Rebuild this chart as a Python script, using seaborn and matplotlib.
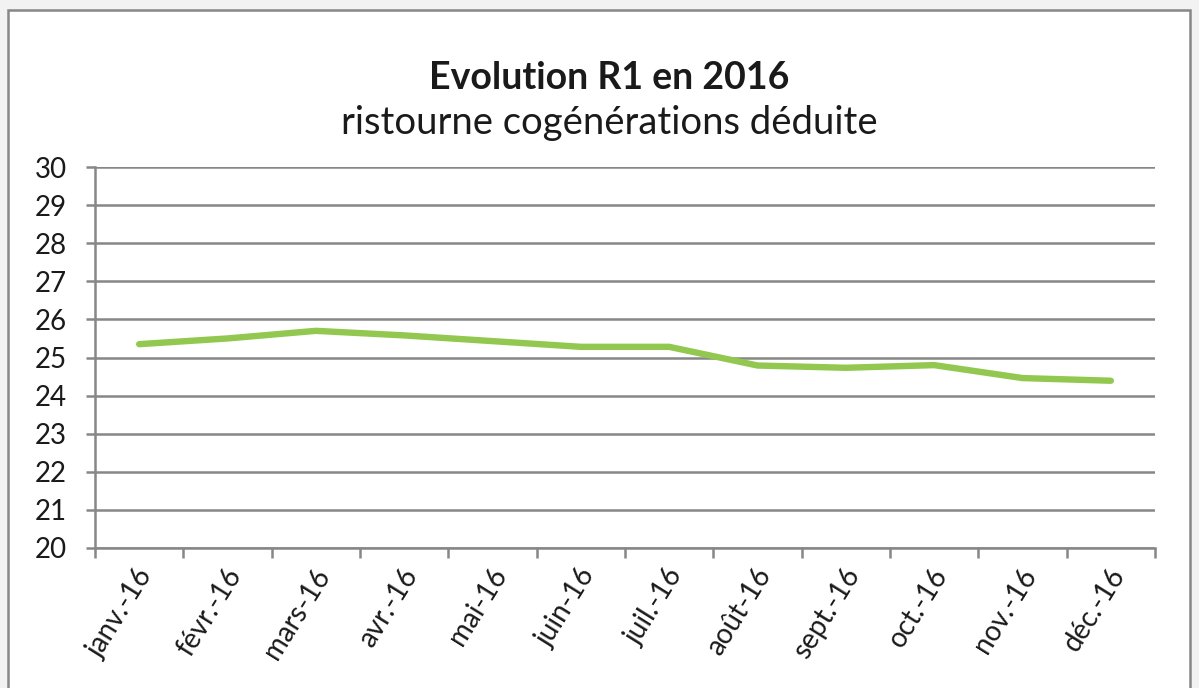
import numpy as np
import pandas as pd
import matplotlib
matplotlib.use("Agg")
import matplotlib.pyplot as plt
import seaborn as sns
from matplotlib.patches import Rectangle

# ----- Data -----
mois = ["janv.-16", "févr.-16", "mars-16", "avr.-16", "mai-16", "juin-16",
        "juil.-16", "août-16", "sept.-16", "oct.-16", "nov.-16", "déc.-16"]
r1 = [25.35, 25.50, 25.70, 25.58, 25.43, 25.28,
      25.28, 24.79, 24.73, 24.80, 24.46, 24.39]
y_ticks = list(range(20, 31))

df = pd.DataFrame({"pos": np.arange(len(mois)), "r1": r1})

sns.set_theme(style="white")
plt.rcParams["font.family"] = ["Lato", "DejaVu Sans"]

grey = "#878787"
green = "#92C850"

fig = plt.figure(figsize=(11.99, 6.88), dpi=100)
fig.patch.set_facecolor("#f2f2f2")

# white chart area with grey frame
fig.patches.append(Rectangle((8 / 1199, -0.05), 1182 / 1199, 1.05 - 10 / 688,
                             transform=fig.transFigure, facecolor="white",
                             edgecolor=grey, linewidth=1.8, zorder=-5))

ax = fig.add_axes([95 / 1199, 140 / 688, 1060 / 1199, 381 / 688])
ax.set_zorder(2)
ax.set_facecolor("white")

sns.lineplot(data=df, x="pos", y="r1", ax=ax, color=green, linewidth=4.6,
             solid_capstyle="round", solid_joinstyle="round", zorder=3)

ax.set_xlim(-0.5, len(mois) - 0.5)
ax.set_ylim(20, 30)
ax.set_yticks(y_ticks)
ax.set_yticklabels([str(v) for v in y_ticks], fontsize=20, color="#1a1a1a")
ax.yaxis.grid(True, color=grey, linewidth=1.8)
ax.set_axisbelow(True)

# category boundaries as ticks, labels near centers (nudged right a little)
ax.set_xticks(np.arange(-0.5, len(mois)), minor=False)
ax.set_xticklabels([""] * (len(mois) + 1))
ax.set_xticks(np.arange(len(mois)) + 0.09, minor=True)
ax.set_xticklabels(mois, minor=True, rotation=58, ha="right", va="center",
                   rotation_mode="anchor", fontsize=20, color="#1a1a1a")
ax.tick_params(axis="x", which="major", length=7, width=1.8, color=grey, bottom=True)
ax.tick_params(axis="x", which="minor", length=0, pad=16, bottom=True)
ax.tick_params(axis="y", length=6.5, width=1.8, color=grey, left=True, pad=14)

for side in ["top", "right"]:
    ax.spines[side].set_visible(False)
for side in ["left", "bottom"]:
    ax.spines[side].set_color(grey)
    ax.spines[side].set_linewidth(1.8)

ax.set_xlabel("")
ax.set_ylabel("")

fig.text(0.508, 1 - 78 / 688, "Evolution R1 en 2016", ha="center", va="center",
         fontsize=27, fontweight="bold", color="#1a1a1a")
fig.text(0.508, 1 - 123 / 688, "ristourne cogénérations déduite", ha="center",
         va="center", fontsize=27.5, color="#1a1a1a")

fig.savefig("out.png", dpi=100, facecolor=fig.get_facecolor())
